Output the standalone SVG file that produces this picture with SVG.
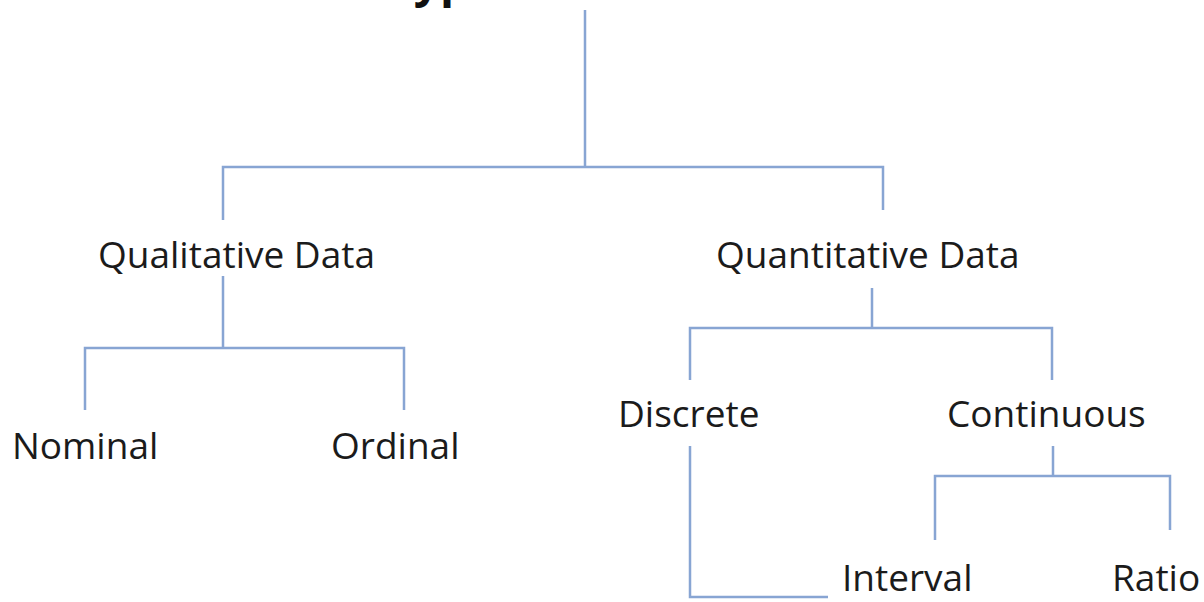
<svg xmlns="http://www.w3.org/2000/svg" width="1204" height="602" viewBox="0 0 1204 602">
  <style>
    .lbl { font-family: "Open Sans", "Liberation Sans", sans-serif; font-size: 37px; fill: #1b1b1b; }
    .title { font-family: "Open Sans", "Liberation Sans", sans-serif; font-size: 46px; font-weight: bold; fill: #111; }
    .conn { fill: none; stroke: #88a5d3; stroke-width: 2.5; }
  </style>
  <rect width="1204" height="602" fill="#ffffff"/>
  <g id="title"><text class="title" x="543" y="-3" text-anchor="middle">Types of Data</text></g>
  <g id="connectors">
    <path class="conn" d="M585,10 V167 M223,220 V167 H883 V210"/>
    <path class="conn" d="M223,276 V348 M85,410 V348 H404 V410"/>
    <path class="conn" d="M872,288 V328 M690,380 V328 H1052 V380"/>
    <path class="conn" d="M690,446 V597 H828"/>
    <path class="conn" d="M1053,446 V476 M935,540 V476 H1170 V530"/>
  </g>
  <g id="qualitative"><text class="lbl" x="98" y="268">Qualitative Data</text></g>
  <g id="quantitative"><text class="lbl" x="716" y="268">Quantitative Data</text></g>
  <g id="nominal"><text class="lbl" x="12" y="459">Nominal</text></g>
  <g id="ordinal"><text class="lbl" x="331" y="459">Ordinal</text></g>
  <g id="discrete"><text class="lbl" x="618" y="427">Discrete</text></g>
  <g id="continuous"><text class="lbl" x="947" y="427">Continuous</text></g>
  <g id="interval"><text class="lbl" x="842" y="591">Interval</text></g>
  <g id="ratio"><text class="lbl" x="1112" y="591">Ratio</text></g>
</svg>
